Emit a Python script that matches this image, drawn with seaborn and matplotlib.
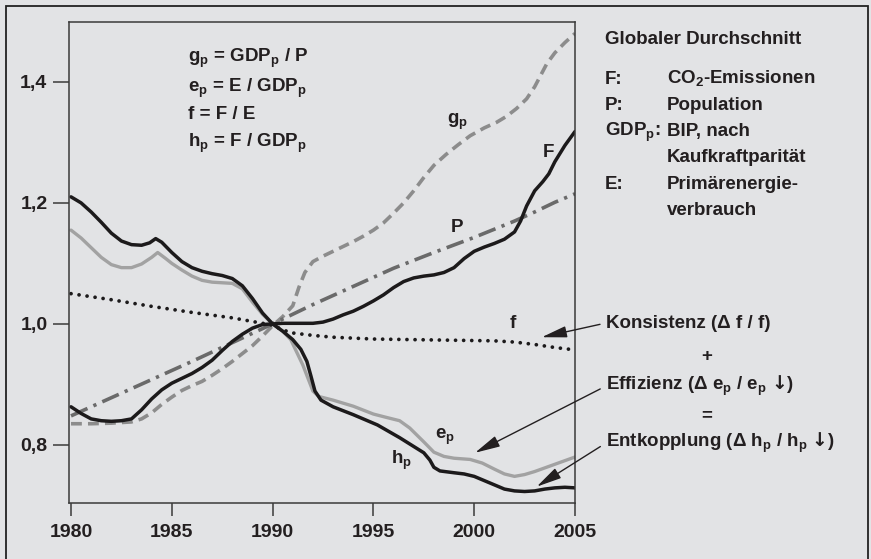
import matplotlib
matplotlib.use("Agg")
import matplotlib.pyplot as plt
from matplotlib.patches import Rectangle
import seaborn as sns

# ---------------- data ----------------
years_hp = [1980.0, 1980.5, 1981.0, 1981.5, 1982.0, 1982.5, 1983.0, 1983.5, 1983.9, 1984.2,
            1984.5, 1985.0, 1985.5, 1986.0, 1986.5, 1987.0, 1987.5, 1988.0, 1988.5, 1989.0,
            1989.5, 1990.0, 1990.5, 1991.0, 1991.4, 1991.7, 1991.9, 1992.1, 1992.4, 1993.0, 1994.0,
            1995.2, 1996.3, 1997.5, 1997.8, 1998.0, 1998.3, 1999.0, 1999.5, 2000.0, 2000.5,
            2001.0, 2001.5, 2002.0, 2002.5, 2003.0, 2003.5, 2004.0, 2004.5, 2005.0]
h_p = [1.210, 1.200, 1.185, 1.168, 1.150, 1.137, 1.131, 1.130, 1.134, 1.141,
       1.135, 1.118, 1.103, 1.093, 1.087, 1.083, 1.080, 1.075, 1.063, 1.042,
       1.018, 1.000, 0.988, 0.974, 0.958, 0.938, 0.914, 0.889, 0.874, 0.863, 0.850,
       0.833, 0.812, 0.787, 0.775, 0.763, 0.757, 0.754, 0.752, 0.748, 0.741,
       0.734, 0.727, 0.724, 0.723, 0.724, 0.727, 0.729, 0.730, 0.729]

years_ep = [1980.0, 1980.5, 1981.0, 1981.5, 1982.0, 1982.5, 1983.0, 1983.5, 1984.0, 1984.3,
            1984.7, 1985.0, 1985.5, 1986.0, 1986.5, 1987.0, 1987.5, 1988.0, 1988.5, 1989.0,
            1989.5, 1990.0, 1990.5, 1990.9, 1991.5, 1992.0, 1992.3, 1993.0, 1994.0, 1995.0,
            1995.7, 1996.3, 1996.8, 1997.5, 1998.0, 1998.5, 1999.0, 1999.8, 2000.4, 2001.0,
            2001.5, 2002.0, 2002.5, 2003.0, 2003.5, 2004.0, 2004.5, 2005.0]
e_p = [1.155, 1.142, 1.126, 1.110, 1.098, 1.093, 1.093, 1.099, 1.110, 1.118,
       1.108, 1.100, 1.089, 1.079, 1.072, 1.069, 1.068, 1.067, 1.058, 1.036,
       1.016, 1.000, 0.988, 0.974, 0.932, 0.889, 0.880, 0.874, 0.864, 0.851,
       0.845, 0.840, 0.828, 0.805, 0.788, 0.781, 0.778, 0.776, 0.770, 0.760,
       0.752, 0.748, 0.751, 0.756, 0.762, 0.768, 0.774, 0.780]

years_F = [1980.0, 1980.5, 1981.0, 1981.5, 1982.0, 1982.5, 1983.0, 1983.5, 1984.0, 1984.5,
           1985.0, 1985.5, 1986.0, 1986.5, 1987.0, 1987.5, 1988.0, 1988.5, 1989.0, 1989.5,
           1990.0, 1990.5, 1991.0, 1991.5, 1992.0, 1992.5, 1993.0, 1993.5, 1994.0, 1994.5,
           1995.0, 1995.5, 1996.0, 1996.5, 1997.0, 1997.5, 1998.0, 1998.5, 1999.0, 1999.5,
           2000.0, 2000.5, 2001.0, 2001.5, 2002.0, 2002.3, 2002.6, 2003.0, 2003.4, 2003.7,
           2004.0, 2004.5, 2005.0]
F = [0.863, 0.852, 0.843, 0.840, 0.839, 0.840, 0.843, 0.858, 0.876, 0.891,
     0.902, 0.910, 0.918, 0.928, 0.940, 0.956, 0.971, 0.983, 0.993, 0.999,
     1.000, 1.001, 1.001, 1.001, 1.001, 1.003, 1.008, 1.015, 1.021, 1.029,
     1.038, 1.048, 1.060, 1.070, 1.076, 1.079, 1.081, 1.085, 1.093, 1.108,
     1.120, 1.127, 1.133, 1.140, 1.152, 1.170, 1.195, 1.220, 1.235, 1.248,
     1.268, 1.295, 1.318]

years_gp = [1980.0, 1981.0, 1982.0, 1983.0, 1983.5, 1984.0, 1984.5, 1985.0, 1985.5, 1986.0,
            1986.5, 1987.0, 1987.5, 1988.0, 1988.5, 1989.0, 1989.5, 1990.0, 1990.5, 1991.0,
            1991.3, 1991.6, 1992.0, 1992.5, 1993.0, 1993.5, 1994.0, 1994.5, 1995.0, 1995.5,
            1996.0, 1996.5, 1997.0, 1997.5, 1998.0, 1998.6, 1999.2, 1999.8, 2000.5, 2001.1,
            2001.6, 2002.1, 2002.6, 2003.0, 2003.6, 2004.0, 2004.5, 2005.0]
g_p = [0.835, 0.835, 0.836, 0.838, 0.843, 0.853, 0.867, 0.879, 0.890, 0.898,
       0.905, 0.915, 0.926, 0.938, 0.951, 0.964, 0.980, 0.997, 1.012, 1.030,
       1.060, 1.085, 1.103, 1.112, 1.120, 1.128, 1.136, 1.145, 1.155, 1.167,
       1.183, 1.200, 1.220, 1.242, 1.262, 1.280, 1.296, 1.311, 1.324, 1.333,
       1.343, 1.356, 1.372, 1.392, 1.430, 1.448, 1.465, 1.480]

years_P = [1980, 1982, 1984, 1986, 1988, 1990, 1992, 1994, 1996, 1998, 2000, 2002, 2003, 2004, 2005]
P = [0.848, 0.878, 0.908, 0.938, 0.969, 1.000, 1.032, 1.062, 1.092, 1.118, 1.143, 1.170, 1.185, 1.201, 1.215]

years_f = [1980, 1982, 1984, 1986, 1988, 1989, 1990, 1990.5, 1991, 1992, 1993, 1995, 1997, 1999,
           2001, 2002, 2003, 2004, 2005]
f = [1.050, 1.040, 1.029, 1.019, 1.010, 1.004, 0.998, 0.990, 0.985, 0.981, 0.978, 0.975, 0.974,
     0.973, 0.972, 0.970, 0.966, 0.961, 0.957]

yticks = [0.8, 1.0, 1.2, 1.4]
ytick_labels = ["0,8", "1,0", "1,2", "1,4"]
xticks = [1980, 1985, 1990, 1995, 2000, 2005]
xtick_labels = ["1980", "1985", "1990", "1995", "2000", "2005"]

formula_lines = ["g$_p$ = GDP$_p$ / P", "e$_p$ = E / GDP$_p$", "f = F / E", "h$_p$ = F / GDP$_p$"]
legend_title = "Globaler Durchschnitt"
legend_keys = ["F:", "P:", "GDP$_p$:", "", "E:", ""]
legend_vals = ["CO$_2$-Emissionen", "Population", "BIP, nach", "Kaufkraftparität",
               "Primärenergie-", "verbrauch"]
note_texts = ["Konsistenz (Δ f / f)",
              "Effizienz (Δ e$_p$ / e$_p$ $\\mathsf{↓}$)",
              "Entkopplung (Δ h$_p$ / h$_p$ $\\mathsf{↓}$)"]

# ---------------- style ----------------
BG = "#e2e3e5"
TXT = "#231f20"
sns.set_theme(style="white")
plt.rcParams["font.family"] = ["Liberation Sans", "DejaVu Sans"]
plt.rcParams["font.weight"] = "bold"
plt.rcParams["mathtext.fontset"] = "custom"
plt.rcParams["mathtext.rm"] = "Liberation Sans:bold"
plt.rcParams["mathtext.it"] = "Liberation Sans:bold"
plt.rcParams["mathtext.bf"] = "Liberation Sans:bold"
plt.rcParams["mathtext.sf"] = "DejaVu Sans:bold"
plt.rcParams["text.color"] = TXT

W, H = 871, 559
fig = plt.figure(figsize=(W / 100, H / 100), dpi=100, facecolor=BG)
ax = fig.add_axes([69 / W, 1 - 503 / H, (575 - 69) / W, (503 - 22) / H])
ax.set_facecolor(BG)

def fx(px):
    return px / W

def fy(py):
    return 1 - py / H

# ---------------- lines ----------------
sns.lineplot(x=years_gp, y=g_p, ax=ax, color="#8c8c8c", lw=2.6,
             linestyle=(0, (3.0, 1.7)), estimator=None, sort=False)
sns.lineplot(x=years_P, y=P, ax=ax, color="#6a6a6a", lw=2.6,
             linestyle=(0, (5.0, 1.8, 0.9, 1.8)), estimator=None, sort=False)
sns.lineplot(x=years_ep, y=e_p, ax=ax, color="#a2a2a2", lw=2.4, estimator=None, sort=False)
sns.lineplot(x=years_hp, y=h_p, ax=ax, color="#1c1a1b", lw=2.5, estimator=None, sort=False)
sns.lineplot(x=years_F, y=F, ax=ax, color="#1c1a1b", lw=2.5, estimator=None, sort=False)
sns.lineplot(x=years_f, y=f, ax=ax, color="#1c1a1b", lw=2.7,
             linestyle=(0, (0.01, 2.15)), dash_capstyle="round", estimator=None, sort=False)

ax.set_xlim(1979.9, 2005)
ax.set_ylim(0.704, 1.499)
ax.set_xticks(xticks)
ax.set_xticklabels(xtick_labels)
ax.set_yticks(yticks)
ax.set_yticklabels(ytick_labels)
ax.set_xlabel("")
ax.set_ylabel("")
for s in ax.spines.values():
    s.set_color("#3a3a3a")
    s.set_linewidth(1.1)
ax.tick_params(axis="y", direction="out", length=11.5, width=1.1, color="#3a3a3a",
               labelsize=14, labelcolor=TXT, pad=4, left=True)
ax.tick_params(axis="x", direction="out", length=9, width=1.1, color="#3a3a3a",
               labelsize=14, labelcolor=TXT, pad=6, bottom=True)
for lab in ax.get_xticklabels() + ax.get_yticklabels():
    lab.set_fontweight("bold")

# ---------------- labels in the plot ----------------
FS = 13.5
ax.text(1999.15, 1.334, "g$_p$", fontsize=FS, ha="center", va="center")
ax.text(2003.7, 1.284, "F", fontsize=FS, ha="center", va="center")
ax.text(1999.15, 1.160, "P", fontsize=FS, ha="center", va="center")
ax.text(2001.9, 1.000, "f", fontsize=FS, ha="center", va="center")
ax.text(1998.55, 0.813, "e$_p$", fontsize=FS, ha="center", va="center")
ax.text(1996.4, 0.775, "h$_p$", fontsize=FS, ha="center", va="center")

formula_base = [61.5, 91.5, 119.0, 147.0]
for txt, by in zip(formula_lines, formula_base):
    fig.text(fx(188), fy(by), txt, fontsize=FS, ha="left", va="baseline")

# ---------------- right-hand legend text ----------------
fig.text(fx(605), fy(44), legend_title, fontsize=FS, ha="left", va="baseline")
for i, (k, v) in enumerate(zip(legend_keys, legend_vals)):
    by = 83.5 + 26.3 * i
    if k:
        fig.text(fx(605), fy(by), k, fontsize=FS, ha="left", va="baseline")
    fig.text(fx(667), fy(by), v, fontsize=FS, ha="left", va="baseline")

# ---------------- annotations with arrows ----------------
arrow = dict(arrowstyle="-|>,head_length=1.1,head_width=0.25", color=TXT, lw=1.0,
             shrinkA=2, shrinkB=0, relpos=(0, 0.5), mutation_scale=14)
targets = [(2003.35, 0.978), (2000.04, 0.787), (2003.1, 0.731)]
text_rows = [323, 386, 443]
for txt, xy, row in zip(note_texts, targets, text_rows):
    ax.annotate(txt, xy=xy, xycoords="data",
                xytext=(fx(606), fy(row)), textcoords="figure fraction",
                fontsize=FS, ha="left", va="center", arrowprops=arrow, annotation_clip=False)
fig.text(fx(707), fy(357), "+", fontsize=FS, ha="center", va="center")
fig.text(fx(707), fy(416), "=", fontsize=FS, ha="center", va="center")

# ---------------- outer frame ----------------
fig.add_artist(Rectangle((fx(5.5), -0.05), fx(868) - fx(5.5), fy(6) + 0.05,
                         transform=fig.transFigure, fill=False, edgecolor="#222222", lw=1.3))

fig.savefig("out.png", dpi=100, facecolor=BG)
